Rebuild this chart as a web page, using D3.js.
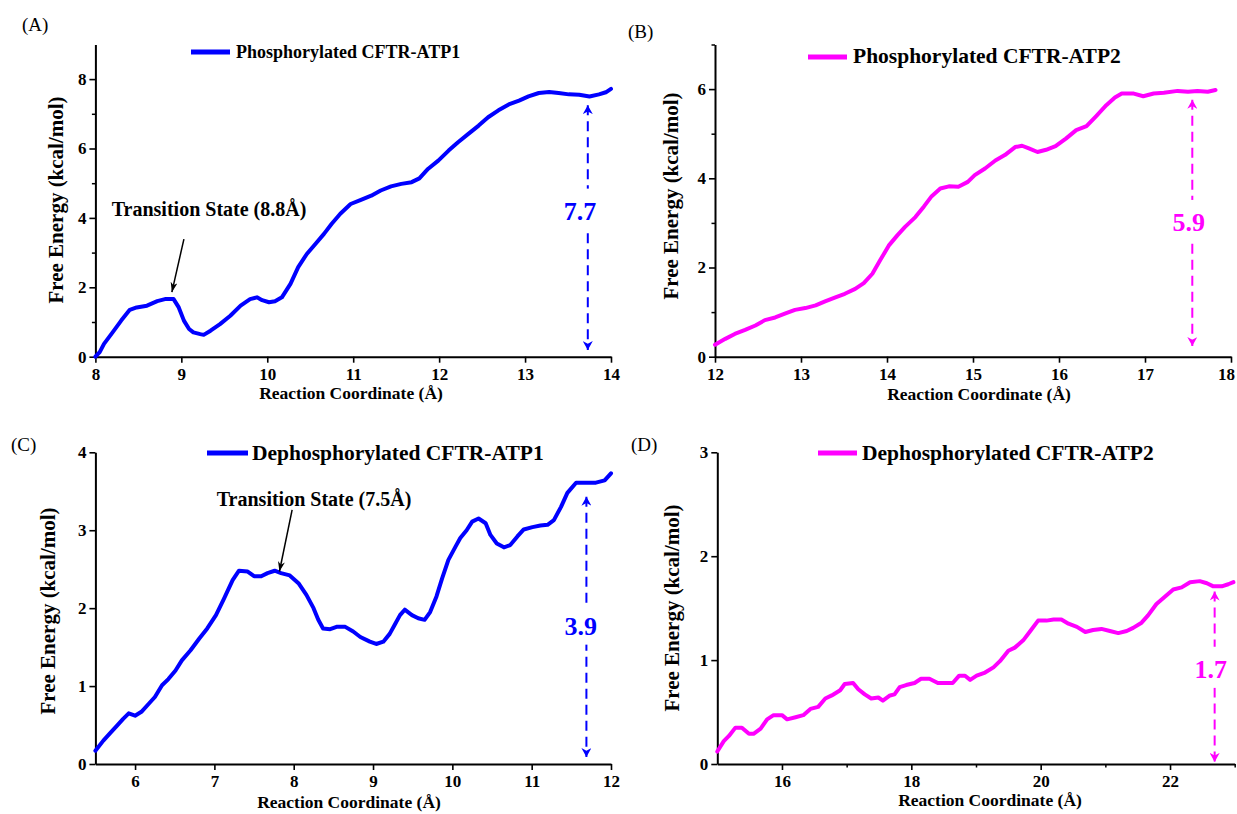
<!DOCTYPE html>
<html>
<head>
<meta charset="utf-8">
<script src="https://cdn.jsdelivr.net/npm/d3@7"></script>
<style>
  html, body { margin: 0; padding: 0; background: #ffffff; }
  svg { display: block; }
</style>
</head>
<body>
<svg id="chart" width="1237" height="814"></svg>
<script>
// ---------------- DATA ----------------
// (A) Phosphorylated CFTR-ATP1
const xA = [8.00, 8.05, 8.10, 8.20, 8.30, 8.40, 8.48, 8.60, 8.72, 8.81, 8.91, 8.97, 9.03, 9.09, 9.14, 9.22, 9.26, 9.34, 9.45, 9.57, 9.69, 9.80, 9.88, 9.94, 10.02, 10.09, 10.17, 10.27, 10.36, 10.46, 10.56, 10.66, 10.75, 10.85, 10.97, 11.09, 11.21, 11.32, 11.44, 11.56, 11.68, 11.77, 11.87, 11.99, 12.11, 12.22, 12.34, 12.46, 12.57, 12.69, 12.81, 12.93, 13.04, 13.16, 13.28, 13.39, 13.51, 13.63, 13.75, 13.86, 13.94, 14.00];
const yA = [0.00, 0.13, 0.37, 0.70, 1.04, 1.35, 1.42, 1.47, 1.60, 1.66, 1.66, 1.42, 1.04, 0.80, 0.70, 0.65, 0.63, 0.75, 0.94, 1.18, 1.47, 1.66, 1.71, 1.63, 1.57, 1.60, 1.71, 2.10, 2.58, 2.96, 3.25, 3.54, 3.83, 4.12, 4.40, 4.52, 4.64, 4.79, 4.91, 4.98, 5.03, 5.14, 5.41, 5.65, 5.94, 6.18, 6.42, 6.66, 6.90, 7.10, 7.27, 7.38, 7.50, 7.60, 7.63, 7.60, 7.56, 7.55, 7.50, 7.56, 7.62, 7.72];

// (B) Phosphorylated CFTR-ATP2
const xB = [12.00, 12.12, 12.23, 12.35, 12.47, 12.58, 12.70, 12.82, 12.93, 13.05, 13.17, 13.28, 13.40, 13.51, 13.63, 13.73, 13.83, 13.92, 14.02, 14.12, 14.21, 14.33, 14.43, 14.52, 14.62, 14.72, 14.83, 14.94, 15.02, 15.14, 15.26, 15.37, 15.49, 15.57, 15.65, 15.75, 15.85, 15.96, 16.08, 16.20, 16.32, 16.43, 16.55, 16.65, 16.73, 16.87, 16.98, 17.10, 17.22, 17.38, 17.50, 17.61, 17.73, 17.82];
const yB = [0.27, 0.40, 0.51, 0.60, 0.70, 0.82, 0.88, 0.97, 1.05, 1.09, 1.15, 1.24, 1.33, 1.41, 1.52, 1.65, 1.86, 2.16, 2.49, 2.72, 2.91, 3.13, 3.37, 3.60, 3.77, 3.82, 3.81, 3.92, 4.07, 4.22, 4.40, 4.52, 4.70, 4.73, 4.67, 4.59, 4.64, 4.72, 4.89, 5.08, 5.17, 5.39, 5.64, 5.81, 5.90, 5.90, 5.84, 5.90, 5.92, 5.96, 5.94, 5.96, 5.94, 5.98];

// (C) Dephosphorylated CFTR-ATP1
const xC = [5.50, 5.60, 5.68, 5.77, 5.85, 5.92, 6.00, 6.08, 6.17, 6.25, 6.34, 6.42, 6.51, 6.59, 6.70, 6.81, 6.91, 7.02, 7.12, 7.23, 7.31, 7.42, 7.50, 7.59, 7.67, 7.76, 7.84, 7.95, 8.06, 8.16, 8.25, 8.31, 8.37, 8.46, 8.54, 8.65, 8.75, 8.84, 8.96, 9.04, 9.13, 9.21, 9.27, 9.34, 9.40, 9.49, 9.57, 9.65, 9.72, 9.80, 9.87, 9.95, 10.04, 10.10, 10.18, 10.25, 10.33, 10.42, 10.48, 10.56, 10.65, 10.73, 10.82, 10.90, 11.01, 11.11, 11.20, 11.28, 11.37, 11.45, 11.56, 11.68, 11.81, 11.92, 12.00];
const yC = [0.17, 0.30, 0.39, 0.49, 0.58, 0.65, 0.62, 0.67, 0.77, 0.86, 1.01, 1.09, 1.20, 1.33, 1.46, 1.61, 1.74, 1.91, 2.12, 2.36, 2.48, 2.47, 2.41, 2.41, 2.45, 2.48, 2.45, 2.42, 2.32, 2.17, 2.00, 1.85, 1.74, 1.73, 1.76, 1.76, 1.70, 1.63, 1.57, 1.54, 1.57, 1.67, 1.78, 1.91, 1.98, 1.91, 1.87, 1.85, 1.95, 2.15, 2.38, 2.62, 2.79, 2.90, 3.00, 3.11, 3.15, 3.09, 2.94, 2.83, 2.78, 2.81, 2.92, 3.01, 3.04, 3.06, 3.07, 3.13, 3.30, 3.48, 3.61, 3.61, 3.61, 3.64, 3.73];

// (D) Dephosphorylated CFTR-ATP2
const xD = [15.00, 15.10, 15.18, 15.28, 15.38, 15.49, 15.56, 15.67, 15.77, 15.87, 16.00, 16.08, 16.21, 16.33, 16.44, 16.56, 16.67, 16.77, 16.90, 16.97, 17.10, 17.18, 17.28, 17.38, 17.49, 17.56, 17.67, 17.74, 17.82, 17.92, 18.05, 18.15, 18.28, 18.41, 18.54, 18.64, 18.74, 18.83, 18.91, 19.01, 19.14, 19.27, 19.37, 19.50, 19.60, 19.73, 19.84, 19.96, 20.09, 20.20, 20.32, 20.43, 20.56, 20.69, 20.81, 20.94, 21.07, 21.20, 21.33, 21.43, 21.56, 21.66, 21.79, 21.92, 22.05, 22.18, 22.31, 22.46, 22.57, 22.67, 22.80, 22.90, 22.98];
const yD = [0.12, 0.22, 0.27, 0.35, 0.35, 0.29, 0.29, 0.34, 0.43, 0.47, 0.47, 0.43, 0.45, 0.47, 0.53, 0.55, 0.63, 0.66, 0.71, 0.77, 0.78, 0.72, 0.67, 0.63, 0.64, 0.61, 0.66, 0.67, 0.74, 0.76, 0.78, 0.82, 0.82, 0.78, 0.78, 0.78, 0.85, 0.85, 0.81, 0.85, 0.88, 0.93, 0.99, 1.09, 1.12, 1.19, 1.28, 1.38, 1.38, 1.39, 1.39, 1.35, 1.32, 1.27, 1.29, 1.30, 1.28, 1.26, 1.28, 1.31, 1.36, 1.43, 1.54, 1.61, 1.68, 1.70, 1.75, 1.76, 1.74, 1.71, 1.71, 1.73, 1.75];

// Series names, panel labels
const seriesNames = ["Phosphorylated CFTR-ATP1", "Phosphorylated CFTR-ATP2", "Dephosphorylated CFTR-ATP1", "Dephosphorylated CFTR-ATP2"];
const panelLabels = ["(A)", "(B)", "(C)", "(D)"];

// Axis domains & ticks
const xDomA = [8, 14],   yDomA = [0, 9];
const xDomB = [12, 18],  yDomB = [0, 7];
const xDomC = [5.5, 12], yDomC = [0, 4];
const xDomD = [15, 23],  yDomD = [0, 3];
const xTicksA = [8, 9, 10, 11, 12, 13, 14],      yTicksA = [0, 2, 4, 6, 8],  yMinorA = [1, 3, 5, 7];
const xTicksB = [12, 13, 14, 15, 16, 17, 18],    yTicksB = [0, 2, 4, 6],     yMinorB = [1, 3, 5, 7];
const xTicksC = [6, 7, 8, 9, 10, 11, 12],        yTicksC = [0, 1, 2, 3, 4],  yMinorC = [];
const xTicksD = [16, 18, 20, 22],                yTicksD = [0, 1, 2, 3],     yMinorD = [];
const xMinorD = [17, 19, 21, 23];

// Barrier annotations: [x, yTop, yBottom], label, label position [x, y]
const barrierValues = ["7.7", "5.9", "3.9", "1.7"];
const barrierArrowA = [13.73, 7.25, 0.19], barrierTextA = [13.64, 3.95];
const barrierArrowB = [17.55, 5.76, 0.24], barrierTextB = [17.51, 2.82];
const barrierArrowC = [11.69, 3.43, 0.09], barrierTextC = [11.62, 1.66];
const barrierArrowD = [22.69, 1.66, 0.02], barrierTextD = [22.63, 0.83];

// Transition state annotations: text anchor [x,y], arrow [x1,y1,x2,y2]
const tsTextA = "Transition State (8.8Å)", tsPosA = [8.19, 4.05], tsArrowA = [9.03, 3.39, 8.89, 1.86];
const tsTextC = "Transition State (7.5Å)", tsPosC = [7.03, 3.31], tsArrowC = [7.98, 3.26, 7.82, 2.47];

// ---------------- DRAW ----------------
const FONT = "'Liberation Serif','Times New Roman',Times,serif";
const BLUE = "#0000ff", MAGENTA = "#ff00ff";
const svg = d3.select("#chart");

const defs = svg.append("defs");
function marker(id, color, len, half) {
  defs.append("marker")
    .attr("id", id).attr("markerUnits", "userSpaceOnUse")
    .attr("viewBox", `0 ${-half} ${len} ${2 * half}`)
    .attr("refX", len).attr("refY", 0)
    .attr("markerWidth", len).attr("markerHeight", 2 * half)
    .attr("orient", "auto-start-reverse")
    .append("path")
    .attr("d", `M0,${-half} L${len},0 L0,${half} L${len * 0.3},0 Z`)
    .attr("fill", color);
}
marker("arrBlack", "#000", 10, 3.5);
marker("arrBlue", BLUE, 9, 5);
marker("arrMag", MAGENTA, 9, 5);

const panels = [
  { xs: xA, ys: yA, xDom: xDomA, yDom: yDomA, xr: [95.4, 611], yr: [356.7, 44.4], xT: xTicksA, xM: [], yT: yTicksA, yM: yMinorA,
    color: BLUE, mk: "arrBlue", name: seriesNames[0], label: panelLabels[0], labelPos: [22, 31],
    legend: { x1: 191, x2: 230, y: 52, tx: 236, ty: 58, fs: 18 },
    ylab: { x: 63, y: 200 }, xlab: { x: 351, y: 399 },
    bar: barrierArrowA, barText: barrierTextA, barVal: barrierValues[0],
    ts: { text: tsTextA, pos: tsPosA, arrow: tsArrowA } },
  { xs: xB, ys: yB, xDom: xDomB, yDom: yDomB, xr: [715, 1231], yr: [356.7, 44.5], xT: xTicksB, xM: [], yT: yTicksB, yM: yMinorB,
    color: MAGENTA, mk: "arrMag", name: seriesNames[1], label: panelLabels[1], labelPos: [628, 38],
    legend: { x1: 808, x2: 847, y: 57, tx: 853, ty: 63, fs: 21.5 },
    ylab: { x: 678, y: 196 }, xlab: { x: 979, y: 400 },
    bar: barrierArrowB, barText: barrierTextB, barVal: barrierValues[1], ts: null },
  { xs: xC, ys: yC, xDom: xDomC, yDom: yDomC, xr: [95.4, 611], yr: [764, 452.3], xT: xTicksC, xM: [], yT: yTicksC, yM: yMinorC,
    color: BLUE, mk: "arrBlue", name: seriesNames[2], label: panelLabels[2], labelPos: [11, 451],
    legend: { x1: 207, x2: 248, y: 453, tx: 252, ty: 460, fs: 21.5 },
    ylab: { x: 55, y: 611 }, xlab: { x: 349, y: 808 },
    bar: barrierArrowC, barText: barrierTextC, barVal: barrierValues[2],
    ts: { text: tsTextC, pos: tsPosC, arrow: tsArrowC } },
  { xs: xD, ys: yD, xDom: xDomD, yDom: yDomD, xr: [717.3, 1234.7], yr: [764, 452.3], xT: xTicksD, xM: xMinorD, yT: yTicksD, yM: yMinorD,
    color: MAGENTA, mk: "arrMag", name: seriesNames[3], label: panelLabels[3], labelPos: [631, 451],
    legend: { x1: 818, x2: 857, y: 453, tx: 862, ty: 460, fs: 21.5 },
    ylab: { x: 679, y: 608 }, xlab: { x: 990, y: 806 },
    bar: barrierArrowD, barText: barrierTextD, barVal: barrierValues[3], ts: null }
];

function styleAxis(sel) {
  sel.select(".domain").attr("stroke", "#000").attr("stroke-width", 2);
  sel.selectAll(".tick line").attr("stroke", "#000").attr("stroke-width", 1.6);
  sel.selectAll(".tick text").attr("fill", "#000").style("font-family", FONT)
    .style("font-weight", "bold").style("font-size", "17px");
}

panels.forEach(p => {
  const g = svg.append("g");
  const x = d3.scaleLinear().domain(p.xDom).range(p.xr);
  const y = d3.scaleLinear().domain(p.yDom).range(p.yr);

  // minor ticks
  if (p.yM.length) {
    const m = g.append("g").attr("transform", `translate(${p.xr[0]},0)`)
      .call(d3.axisLeft(y).tickValues(p.yM).tickSize(3.5).tickFormat(""));
    m.select(".domain").remove();
    m.selectAll(".tick line").attr("stroke", "#000").attr("stroke-width", 1.5);
  }
  if (p.xM.length) {
    const m = g.append("g").attr("transform", `translate(0,${p.yr[0]})`)
      .call(d3.axisBottom(x).tickValues(p.xM).tickSize(3.5).tickFormat(""));
    m.select(".domain").remove();
    m.selectAll(".tick line").attr("stroke", "#000").attr("stroke-width", 1.5);
  }

  // axes
  const xa = g.append("g").attr("transform", `translate(0,${p.yr[0]})`)
    .call(d3.axisBottom(x).tickValues(p.xT).tickSize(6).tickSizeOuter(0).tickPadding(5).tickFormat(d3.format("d")));
  styleAxis(xa);
  // keep the right-most tick label inside the page
  xa.selectAll(".tick text").each(function () {
    const b = this.getBBox();
    const tr = this.parentNode.transform.baseVal.consolidate();
    const right = (tr ? tr.matrix.e : 0) + b.x + b.width;
    if (right > 1235) d3.select(this).attr("dx", (1235 - right) + "px");
  });
  const ya = g.append("g").attr("transform", `translate(${p.xr[0]},0)`)
    .call(d3.axisLeft(y).tickValues(p.yT).tickSize(6).tickSizeOuter(0).tickPadding(3).tickFormat(d3.format("d")));
  styleAxis(ya);

  // axis titles
  g.append("text").attr("x", p.xlab.x).attr("y", p.xlab.y).attr("text-anchor", "middle")
    .style("font-family", FONT).style("font-weight", "bold").style("font-size", "17.5px")
    .text("Reaction Coordinate (Å)");
  g.append("text").attr("transform", `translate(${p.ylab.x},${p.ylab.y}) rotate(-90)`)
    .attr("text-anchor", "middle")
    .style("font-family", FONT).style("font-weight", "bold").style("font-size", "21px")
    .text("Free Energy (kcal/mol)");

  // panel label
  g.append("text").attr("x", p.labelPos[0]).attr("y", p.labelPos[1])
    .style("font-family", FONT).style("font-size", "19px").text(p.label);

  // curve
  const pts = p.xs.map((v, i) => [v, p.ys[i]]);
  g.append("path").datum(pts)
    .attr("d", d3.line().x(d => x(d[0])).y(d => y(d[1])))
    .attr("fill", "none").attr("stroke", p.color).attr("stroke-width", 4)
    .attr("stroke-linejoin", "round").attr("stroke-linecap", "round");

  // legend
  g.append("line").attr("x1", p.legend.x1).attr("x2", p.legend.x2)
    .attr("y1", p.legend.y).attr("y2", p.legend.y)
    .attr("stroke", p.color).attr("stroke-width", 5);
  g.append("text").attr("x", p.legend.tx).attr("y", p.legend.ty)
    .style("font-family", FONT).style("font-weight", "bold").style("font-size", p.legend.fs + "px")
    .text(p.name);

  // barrier dashed arrow
  const bx = x(p.bar[0]);
  g.append("line").attr("x1", bx).attr("x2", bx)
    .attr("y1", y(p.bar[1])).attr("y2", y(p.bar[2]))
    .attr("stroke", p.color).attr("stroke-width", 2).attr("stroke-dasharray", "10,6")
    .attr("marker-start", `url(#${p.mk})`).attr("marker-end", `url(#${p.mk})`);
  const bt = g.append("text").attr("x", x(p.barText[0])).attr("y", y(p.barText[1]))
    .attr("text-anchor", "middle").attr("fill", p.color)
    .style("font-family", FONT).style("font-weight", "bold").style("font-size", "26px")
    .text(p.barVal);
  const bb = bt.node().getBBox();
  g.insert("rect", () => bt.node())
    .attr("x", bb.x - 2).attr("y", bb.y - 8).attr("width", bb.width + 4).attr("height", bb.height + 12)
    .attr("fill", "#fff");

  // transition state annotation
  if (p.ts) {
    g.append("text").attr("x", x(p.ts.pos[0])).attr("y", y(p.ts.pos[1]))
      .style("font-family", FONT).style("font-weight", "bold").style("font-size", "20px")
      .text(p.ts.text);
    const a = p.ts.arrow;
    g.append("line").attr("x1", x(a[0])).attr("y1", y(a[1])).attr("x2", x(a[2])).attr("y2", y(a[3]))
      .attr("stroke", "#000").attr("stroke-width", 1.5).attr("marker-end", "url(#arrBlack)");
  }
});
</script>
</body>
</html>
